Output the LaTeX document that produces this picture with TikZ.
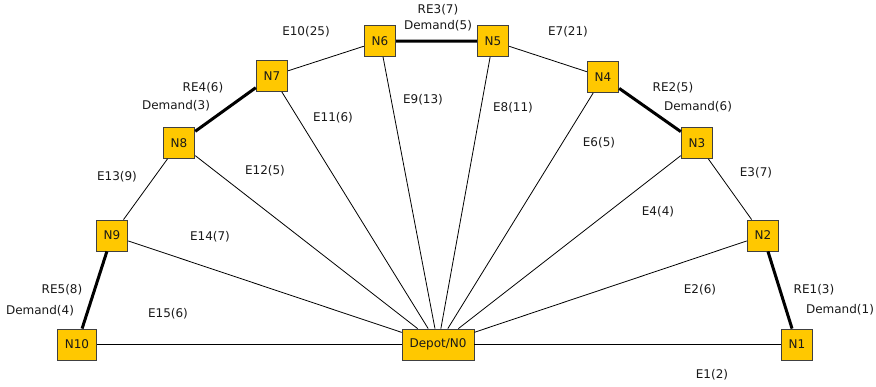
\documentclass[tikz,border=0pt]{standalone}
\usepackage{fontspec}
\setmainfont{DejaVu Sans}
\usepackage{tikz}
\definecolor{siteyellow}{RGB}{255,200,0}

\begin{document}
\begin{tikzpicture}[
  x=1pt, y=-1pt,
  site/.style={draw=black!75, line width=0.8pt, fill=siteyellow,
               minimum width=31pt, minimum height=31pt, inner xsep=7.5pt},
  road/.style={line width=0.8pt, black},
  route/.style={line width=3pt, black},
  every node/.style={font=\fontsize{12}{14}\selectfont, text=black!90}]

\useasboundingbox (0,0) rectangle (876,386);

% ---- the depot and the ten customers ------------------------------------
\node[site] (n0)  at (438,344.5) {Depot/N0};
\node[site] (n1)  at (797,344.5) {N1};
\node[site] (n2)  at (763,235.5) {N2};
\node[site] (n3)  at (697,143)   {N3};
\node[site] (n4)  at (603,77)    {N4};
\node[site] (n5)  at (493,41)    {N5};
\node[site] (n6)  at (380,41)    {N6};
\node[site] (n7)  at (272,76)    {N7};
\node[site] (n8)  at (179,143)   {N8};
\node[site] (n9)  at (112,235.5) {N9};
\node[site] (n10) at (77,344.5)  {N10};

% ---- spokes from the depot ----------------------------------------------
\foreach \k in {1,...,10}{
  \draw[road] (n0)--(n\k);
}

% ---- the ring: plain edges and required edges ---------------------------
\draw[road]  (n2)--(n3) (n4)--(n5) (n6)--(n7) (n8)--(n9);
\draw[route] (n1)--(n2) (n3)--(n4) (n5)--(n6) (n7)--(n8) (n9)--(n10);

% ---- edge costs ---------------------------------------------------------
\node (e1)  at (712,375) {E1(2)};
\node (e2)  at (700,290) {E2(6)};
\node (e3)  at (756,173) {E3(7)};
\node (e4)  at (658,212) {E4(4)};
\node (e6)  at (599,143) {E6(5)};
\node (e7)  at (568,32)  {E7(21)};
\node (e8)  at (513,108) {E8(11)};
\node (e9)  at (423,100) {E9(13)};
\node (e10) at (306,32)  {E10(25)};
\node (e11) at (333,118) {E11(6)};
\node (e12) at (265,171) {E12(5)};
\node (e13) at (117,177) {E13(9)};
\node (e14) at (210,237) {E14(7)};
\node (e15) at (168,314) {E15(6)};

% ---- required edges with their demand -----------------------------------
\node (re1) at (814,290) {RE1(3)};
\node (d1)  at (840,310) {Demand(1)};
\node (re2) at (673,88)  {RE2(5)};
\node (d2)  at (698,107) {Demand(6)};
\node (re3) at (438,10)  {RE3(7)};
\node (d3)  at (438,26)  {Demand(5)};
\node (re4) at (203,88)  {RE4(6)};
\node (d4)  at (176,106) {Demand(3)};
\node (re5) at (62,290)  {RE5(8)};
\node (d5)  at (40,311)  {Demand(4)};

\end{tikzpicture}
\end{document}
